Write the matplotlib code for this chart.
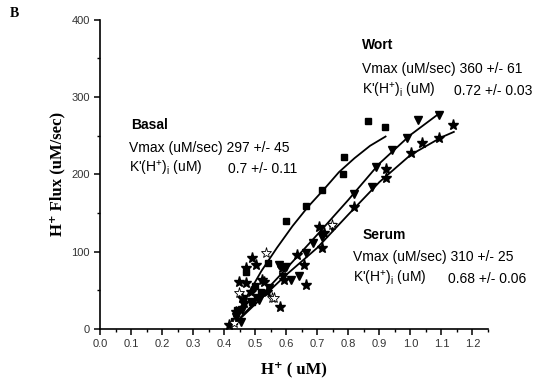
import matplotlib
matplotlib.use("Agg")
import matplotlib.pyplot as plt
from matplotlib.ticker import MultipleLocator

plt.rcParams['font.family'] = ['Liberation Sans', 'DejaVu Sans']
plt.rcParams['mathtext.fontset'] = 'custom'
plt.rcParams['mathtext.rm'] = 'Liberation Sans'
plt.rcParams['mathtext.it'] = 'Liberation Sans:italic'
plt.rcParams['mathtext.bf'] = 'Liberation Sans:bold'

# Basal (squares)
basal_x = [0.43, 0.44, 0.46, 0.47, 0.49, 0.50, 0.505, 0.52, 0.54, 0.599, 0.663, 0.715, 0.783, 0.786, 0.864, 0.919]
basal_y = [10, 25, 40, 74, 35, 55, 41, 48, 85, 140, 159, 180, 201, 222, 269, 261]
basal_fit_x = [0.42, 0.47, 0.52, 0.57, 0.62, 0.67, 0.72, 0.77, 0.82, 0.87, 0.92]
basal_fit_y = [5, 40, 75, 105, 133, 158, 180, 203, 221, 237, 249]

# Wort (down triangles)
wort_x = [0.437, 0.453, 0.456, 0.485, 0.511, 0.544, 0.576, 0.589, 0.599, 0.615, 0.64, 0.663,
          0.686, 0.715, 0.748, 0.819, 0.877, 0.890, 0.942, 0.990, 1.023, 1.091]
wort_y = [16, 9, 25, 35, 38, 53, 83, 67, 80, 63, 68, 98,
          111, 119, 132, 175, 184, 210, 232, 247, 271, 277]
wort_fit_x = [0.43, 0.5, 0.6, 0.7, 0.8, 0.9, 1.0, 1.09]
wort_fit_y = [5, 35, 78, 122, 167, 214, 251, 278]

# Serum (stars)
serum_x = [0.414, 0.437, 0.447, 0.469, 0.469, 0.489, 0.502, 0.521, 0.456, 0.463, 0.485, 0.527,
           0.537, 0.579, 0.586, 0.592, 0.634, 0.657, 0.663, 0.706, 0.715, 0.722, 0.819,
           0.922, 0.922, 1.003, 1.039, 1.091, 1.136]
serum_y = [5, 22, 61, 79, 60, 92, 83, 63, 40, 34, 48, 61,
           48, 28, 79, 63, 96, 83, 57, 132, 105, 124, 158,
           195, 207, 228, 241, 247, 264]
serum_fit_x = [0.43, 0.5, 0.6, 0.7, 0.8, 0.9, 1.0, 1.1, 1.14]
serum_fit_y = [5, 32, 70, 105, 148, 190, 225, 248, 255]

# open stars
open_x = [0.43, 0.447, 0.534, 0.553, 0.56, 0.748]
open_y = [8, 47, 98, 40, 40, 135]

fig = plt.figure(figsize=(5.38, 3.82), dpi=100)
ax = fig.add_axes([0.186, 0.139, 0.721, 0.809])

ax.plot(basal_fit_x, basal_fit_y, color='black', lw=1.3)
ax.plot(wort_fit_x, wort_fit_y, color='black', lw=1.3)
ax.plot(serum_fit_x, serum_fit_y, color='black', lw=1.3)

ax.plot(basal_x, basal_y, 's', color='black', ms=5, ls='none')
ax.plot(wort_x, wort_y, 'v', color='black', ms=6, ls='none')
ax.plot(serum_x, serum_y, '*', color='black', ms=8, ls='none')
ax.plot(open_x, open_y, '*', mfc='white', mec='black', mew=0.6, ms=8, ls='none')

ax.set_xlim(0, 1.25)
ax.set_ylim(0, 400)
ax.xaxis.set_major_locator(MultipleLocator(0.1))
ax.xaxis.set_minor_locator(MultipleLocator(0.05))
ax.yaxis.set_major_locator(MultipleLocator(100))
ax.yaxis.set_minor_locator(MultipleLocator(50))
ax.xaxis.set_major_formatter(plt.FormatStrFormatter('%.1f'))

for s in ['top', 'right']:
    ax.spines[s].set_visible(False)
for s in ['left', 'bottom']:
    ax.spines[s].set_linewidth(1.2)

ax.tick_params(which='major', direction='out', length=4, width=1.1, labelsize=8, labelcolor='#333333')
ax.tick_params(which='minor', direction='out', length=2.5, width=1.0)

serif = ['Liberation Serif', 'DejaVu Serif']
ax.set_ylabel('H\u207a Flux (uM/sec)', family=serif, fontweight='bold', fontsize=12, labelpad=4)
ax.set_xlabel('H\u207a ( uM)', family=serif, fontweight='bold', fontsize=12, labelpad=9)
fig.text(0.018, 0.955, 'B', family=serif, fontweight='bold', fontsize=10)

kstr = r"K'(H$^{+}$)$_{\mathrm{i}}$ (uM)"
fs = 10

# Wort
ax.text(0.845, 368, 'Wort', fontweight='bold', fontsize=fs, va='center')
ax.text(0.845, 337, 'Vmax (uM/sec) 360 +/- 61', fontsize=fs, va='center')
ax.text(0.845, 308, kstr, fontsize=fs, va='center')
ax.text(1.14, 308, '0.72 +/- 0.03', fontsize=fs, va='center')

# Basal
ax.text(0.100, 264, 'Basal', fontweight='bold', fontsize=fs, va='center')
ax.text(0.094, 234, 'Vmax (uM/sec) 297 +/- 45', fontsize=fs, va='center')
ax.text(0.094, 207, kstr, fontsize=fs, va='center')
ax.text(0.411, 207, '0.7 +/- 0.11', fontsize=fs, va='center')

# Serum
ax.text(0.845, 122, 'Serum', fontweight='bold', fontsize=fs, va='center')
ax.text(0.816, 93, 'Vmax (uM/sec) 310 +/- 25', fontsize=fs, va='center')
ax.text(0.816, 65, kstr, fontsize=fs, va='center')
ax.text(1.12, 65, '0.68 +/- 0.06', fontsize=fs, va='center')

fig.savefig('out.png', dpi=100)
